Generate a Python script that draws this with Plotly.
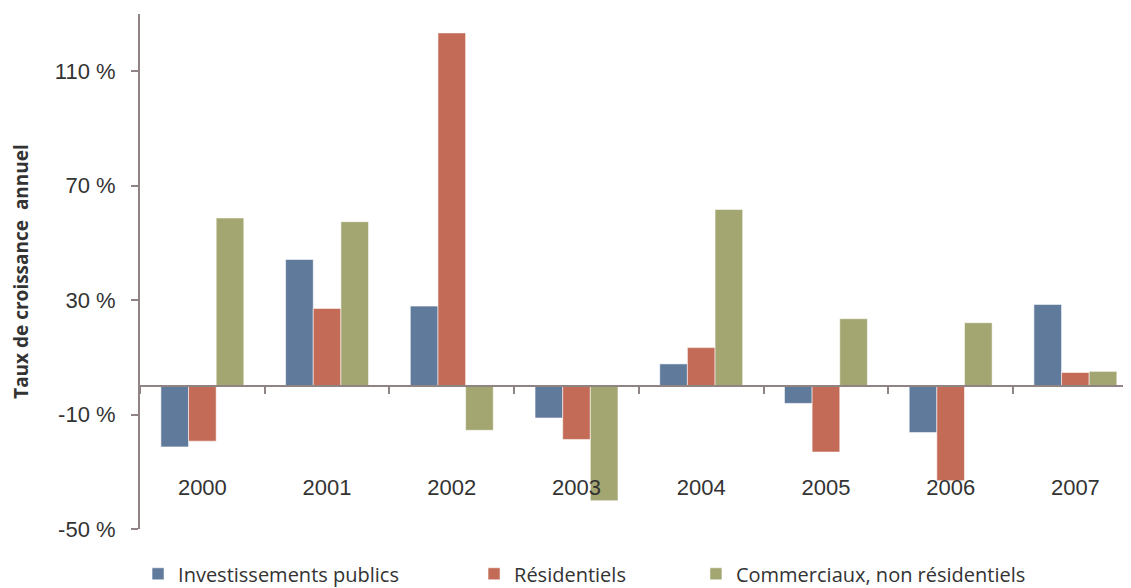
import plotly.graph_objects as go

years = ["2000", "2001", "2002", "2003", "2004", "2005", "2006", "2007"]
publics = [-21.3, 44.2, 27.9, -11.2, 7.7, -6.1, -16.3, 28.5]
residentiels = [-19.3, 27.1, 123.4, -18.7, 13.4, -23.1, -33.1, 4.7]
commerciaux = [58.7, 57.4, -15.5, -40.1, 61.7, 23.5, 22.1, 5.1]
names = ["Investissements publics", "Résidentiels", "Commerciaux, non résidentiels"]
colors = ["#607A9B", "#C36B57", "#A4A671"]
ytickvals = [-50, -10, 30, 70, 110]
yticktext = ["-50 %", "-10 %", "30 %", "70 %", "110 %"]

series = [publics, residentiels, commerciaux]
legends = ["legend", "legend2", "legend3"]
fig = go.Figure()
for vals, nm, col, lg in zip(series, names, colors, legends):
    fig.add_trace(go.Bar(
        x=years, y=vals, name=nm, legend=lg, showlegend=True,
        marker=dict(color=col, line=dict(color="rgba(255,255,255,0.55)", width=1)),
    ))

axis_col = "#8F8383"
leg_font = dict(family="Open Sans", size=20, color="#333333")
ymin, ymax = -50, 130
zero_pos = (0 - ymin) / (ymax - ymin)


def leg(xc):
    return dict(orientation="h", xref="container", yref="container",
                x=xc, y=0.0245, xanchor="left", yanchor="middle",
                font=leg_font, bgcolor="rgba(0,0,0,0)")


fig.update_layout(
    width=1123, height=580,
    showlegend=True,
    margin=dict(l=132, r=0, t=5.5, b=59.3, autoexpand=False),
    paper_bgcolor="white", plot_bgcolor="white",
    barmode="group", bargap=0.335, bargroupgap=0,
    font=dict(family="Liberation Sans", color="#333333"),
    xaxis=dict(
        type="category", range=[-0.5, 7.446],
        anchor="free", position=zero_pos, automargin=False,
        showline=True, linecolor=axis_col, linewidth=2,
        ticks="outside", tickson="boundaries", ticklen=7, tickcolor=axis_col, tickwidth=2,
        tickfont=dict(family="Liberation Sans", size=22, color="#333333"),
        ticklabelstandoff=82,
        showgrid=False, zeroline=False,
    ),
    yaxis=dict(
        range=[ymin, ymax], automargin=False,
        tickvals=ytickvals, ticktext=yticktext,
        showline=True, linecolor=axis_col, linewidth=2,
        ticks="outside", ticklen=7, tickcolor=axis_col, tickwidth=2,
        ticklabelstandoff=11,
        tickfont=dict(family="Liberation Sans", size=22, color="#333333"),
        showgrid=False, zeroline=False,
        title=dict(text="Taux de croissance  annuel",
                   font=dict(family="Open Sans", size=19, color="#333333", weight="bold"),
                   standoff=24),
    ),
    legend=leg(0.1158),
    legend2=leg(0.4150),
    legend3=leg(0.6126),
)

fig.write_html("out.html")
